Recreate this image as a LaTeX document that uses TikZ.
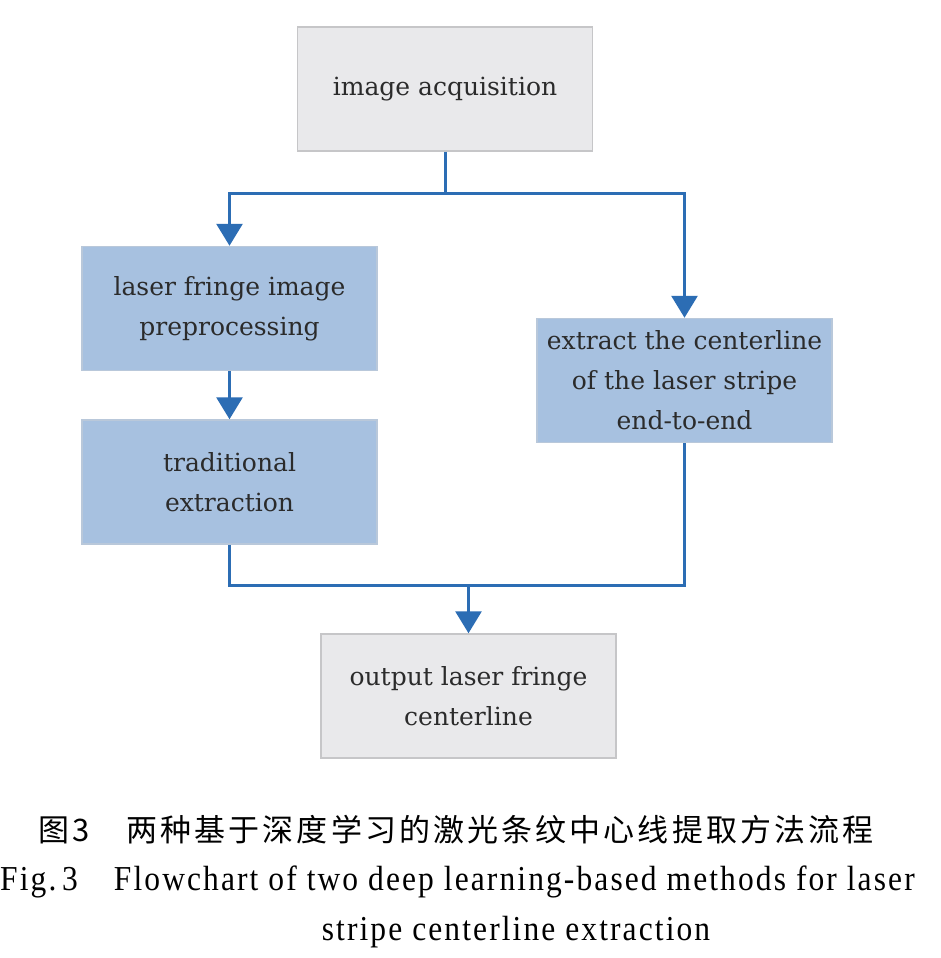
\documentclass[tikz,border=0pt]{standalone}
\usepackage{fontspec}
\setmainfont{DejaVu Serif}
\newfontfamily\capfont[FakeStretch=0.9,LetterSpace=6]{Liberation Serif}
\newfontfamily\cjk[LetterSpace=10]{Noto Sans CJK SC}
\usetikzlibrary{arrows.meta}
\definecolor{grayfill}{HTML}{E9E9EB}
\definecolor{grayline}{HTML}{C6C6C8}
\definecolor{bluefill}{HTML}{A7C1E0}
\definecolor{blueline}{HTML}{B9C8DA}
\definecolor{conncol}{HTML}{2C6DB4}
\definecolor{txt}{HTML}{2B2B2B}
\tikzset{
  box/.style={rectangle, minimum width=295pt, minimum height=124pt, align=center,
    font=\fontsize{25}{40}\selectfont, text=txt, line width=1.5pt, inner sep=0pt},
  graybox/.style={box, fill=grayfill, draw=grayline},
  bluebox/.style={box, fill=bluefill, draw=blueline},
  conn/.style={draw=conncol, line width=3pt},
  arr/.style={conn, -{Triangle[width=26pt,length=22pt]}},
  captext/.style={inner sep=0pt, text=black}
}
\begin{document}
\begin{tikzpicture}[x=1pt,y=-1pt]
\useasboundingbox[fill=white] (0,0) rectangle (940,958);
\node[graybox] (acq) at (445,89) {image acquisition};
\node[bluebox] (prep) at (229.5,308.5) {laser fringe image\\preprocessing};
\node[bluebox] (trad) at (229.5,482) {traditional\\extraction};
\node[bluebox] (ext) at (684.5,380.5) {extract the centerline\\of the laser stripe\\end-to-end};
\node[graybox] (out) at (468.5,696) {output laser fringe\\centerline};
\coordinate (j1) at (445,193);
\coordinate (j2) at (468.5,585);
\draw[conn] (acq.south) -- (j1);
\draw[arr] (j1) -| (prep.north);
\draw[arr] (j1) -| (ext.north);
\draw[arr] (prep.south) -- (trad.north);
\draw[conn] (trad.south) |- (j2);
\draw[conn] (ext.south) |- (j2);
\draw[arr] (j2) -- (out.north);
\node[captext, anchor=west] (c1) at (38,830) {\cjk\fontsize{31}{31}\selectfont 图3\hspace{37pt}两种基于深度学习的激光条纹中心线提取方法流程};
\node[captext, anchor=west] (c2) at (0,882) {\capfont\fontsize{35}{35}\selectfont Fig.\,3\hspace{36pt}Flowchart of two deep learning-based methods for laser};
\node[captext] (c3) at (516,932) {\capfont\fontsize{35}{35}\selectfont stripe centerline extraction};
\end{tikzpicture}
\end{document}
